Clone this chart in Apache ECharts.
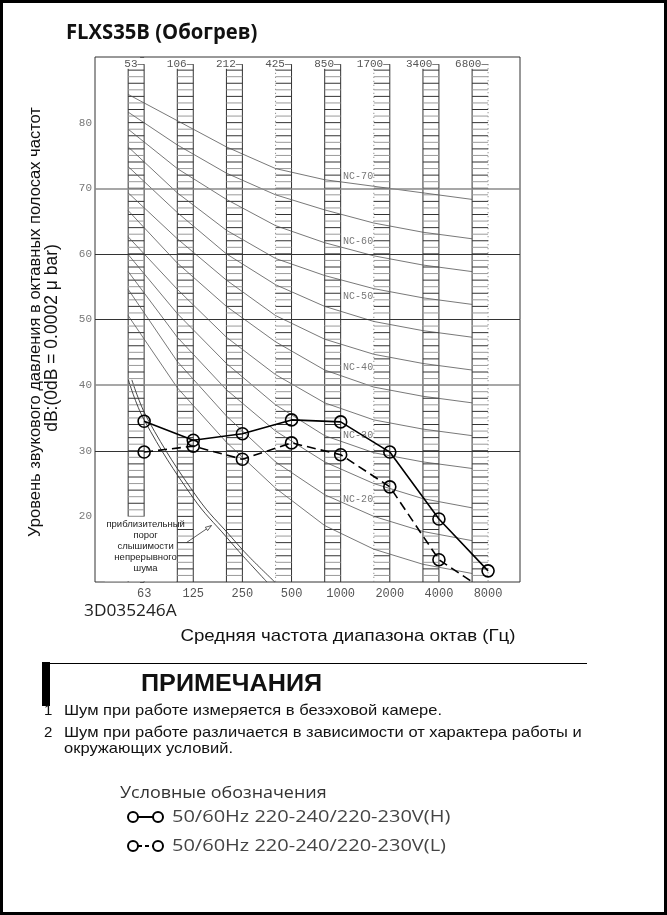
<!DOCTYPE html>
<html><head><meta charset="utf-8">
<script src="https://cdn.jsdelivr.net/npm/echarts@6/dist/echarts.min.js"></script>
<style>html,body{margin:0;padding:0;background:#fff}#c{width:667px;height:915px}</style>
</head><body><div id="c"></div><script>
// ---- data ----
const freqLabels = ['63','125','250','500','1000','2000','4000','8000'];
const bandLabels = ['53','106','212','425','850','1700','3400','6800'];
const yTickLabels = [20,30,40,50,60,70,80];
const gridLevels = [30,40,50,60,70];
const highValues = [34.5,31.6,32.6,34.7,34.4,29.8,19.6,11.7];
const lowValues  = [29.8,30.7,28.7,31.2,29.4,24.5,13.4,8.4];
// NC curves, values read at the lower edge of each band column
const nc70 = [84.3,80.3,76.3,73.0,71.3,70.3,69.3,68.3];
const nc65 = [81.6,76.6,72.3,69.0,66.7,64.7,63.3,62.3];
const nc60 = [79.0,73.0,68.3,64.3,61.7,59.7,58.3,57.3];
const nc55 = [76.3,69.3,63.6,59.3,56.7,54.7,53.3,52.3];
const nc50 = [73.3,66.3,60.0,55.3,52.0,49.7,48.3,47.3];
const nc45 = [69.3,62.3,56.0,50.6,47.0,44.7,43.3,42.3];
const nc40 = [66.6,58.6,52.0,46.6,42.3,39.7,38.3,37.3];
const nc35 = [62.6,54.6,47.3,41.6,37.3,34.7,33.3,32.3];
const nc30 = [59.9,50.9,43.3,37.0,32.3,29.7,28.3,27.3];
const nc25 = [57.3,47.3,39.3,33.0,28.3,25.0,22.7,21.3];
const nc20 = [54.6,43.6,35.3,28.3,23.3,20.0,17.7,16.3];
const nc15 = [50.6,39.6,31.3,24.3,18.6,15.0,12.7,11.3];
const ncCurves = [nc70,nc65,nc60,nc55,nc50,nc45,nc40,nc35,nc30,nc25,nc20,nc15];
const ncLabelNames  = ['NC-70','NC-60','NC-50','NC-40','NC-30','NC-20'];
const ncLabelLevels = [71.8,61.9,53.5,42.7,32.4,22.6];
// approximate threshold of hearing (two close lines), [band index, dB]
const thresholdA = [[-0.32,40.8],[0,34.7],[1,22.8],[1.68,16.8],[2.02,13.9],[2.5,10.0]];
const thresholdB = [[-0.25,40.8],[0.08,34.7],[1.09,22.8],[1.78,16.8],[2.13,13.9],[2.66,10.0]];
const thresholdText = ['приблизительный','порог','слышимости','непрерывного','шума'];
const legendNames = ['50/60Hz 220-240/220-230V(H)','50/60Hz 220-240/220-230V(L)'];

// ---- layout / style constants ----
const EDGE = 0.325;          // width of the hatched band column (in band units)
const X_MIN = -1, X_MAX = 7.65;
const dottedLeft = [3,5], dottedRight = [7];
const NC_LABEL_X = 4.05;
const MONO = "'Liberation Mono', monospace";
const SANS = "'Liberation Sans', Arial, sans-serif";
const OPEN = "'Open Sans', sans-serif";

const chart = echarts.init(document.getElementById('c'), null, {renderer:'canvas'});

const ladder = {
  type:'custom', silent:true, z:1,
  data: freqLabels.map((f,i)=>[i]),
  renderItem(params, api){
    const i = api.value(0);
    const xl = api.coord([i-EDGE, 50])[0], xr = api.coord([i, 50])[0];
    const yb = api.coord([0,10])[1];
    const ch = [];
    ch.push({type:'line', shape:{x1:xr,y1:api.coord([0,88.9])[1],x2:xr,y2:yb},
      style: dottedRight.includes(i) ? {stroke:'#777',lineWidth:1,lineDash:[1,3]} : {stroke:'#333',lineWidth:1}});
    ch.push({type:'line', shape:{x1:xl,y1:api.coord([0,88.2])[1],x2:xl,y2:yb},
      style: dottedLeft.includes(i) ? {stroke:'#777',lineWidth:1,lineDash:[1,3]} : {stroke:'#333',lineWidth:1}});
    for (let d=11; d<=88; d++){
      const y = api.coord([0,d])[1];
      ch.push({type:'line', shape:{x1:xl,y1:y,x2:xr,y2:y},
        style:{stroke: d%2 ? '#9a9a9a' : '#333', lineWidth:1}});
    }
    return {type:'group', children:ch};
  }
};

const gridSeries = {
  type:'line', data:[], silent:true, z:2,
  markLine:{ silent:true, symbol:'none', label:{show:false}, animation:false,
    data: gridLevels.map(v=>({yAxis:v, lineStyle:{color:(v===40||v===70)?'#8a8a8a':'#333', width:(v===40||v===70)?1.5:1, type:'solid'}}))}
};

const ncSeries = ncCurves.map(arr=>({
  type:'line', silent:true, z:3, symbol:'none',
  data: arr.map((v,i)=>[i-EDGE, v]),
  lineStyle:{color:'#555', width:0.8}
}));

const thrSeries = [thresholdA, thresholdB].map(arr=>({
  type:'line', silent:true, z:3, symbol:'none', smooth:0.4,
  data: arr, lineStyle:{color:'#333', width:0.9}
}));

const ncLabelSeries = {
  type:'scatter', silent:true, z:4, symbolSize:0,
  data: ncLabelNames.map((n,k)=>({value:[NC_LABEL_X, ncLabelLevels[k]], name:n})),
  label:{show:true, position:'right', distance:0, formatter:p=>p.name,
    fontFamily:MONO, fontSize:10, color:'#555'}
};

const dataSeries = [
  {name:legendNames[0], type:'line', z:6, data: highValues.map((v,i)=>[i,v]),
   symbol:'circle', symbolSize:12, itemStyle:{color:'rgba(0,0,0,0)', borderColor:'#000', borderWidth:1.6},
   lineStyle:{color:'#000', width:1.6}, clip:true},
  {name:legendNames[1], type:'line', z:6, data: lowValues.map((v,i)=>[i,v]),
   symbol:'circle', symbolSize:12, itemStyle:{color:'rgba(0,0,0,0)', borderColor:'#000', borderWidth:1.6},
   lineStyle:{color:'#000', width:1.6, type:[9,5]}, clip:true}
];

const texts = [];
function txt(x,y,text,font,fill,align,extra){
  texts.push(Object.assign({type:'text', z:20, x, y, style:{text, font, fill:fill||'#000', textAlign:align||'left', textVerticalAlign:'middle'}}, extra||{}));
}
// title
txt(66,33,'FLXS35B (Обогрев)',`bold 22px ${OPEN}`,'#111','left',{scaleX:0.92});
// y axis titles
txt(35,322,'Уровень звукового давления в октавных полосах частот',`16.5px ${SANS}`,'#111','center',{rotation:Math.PI/2});
txt(52,338,'dB:(0dB = 0.0002 μ bar)',`17.5px ${SANS}`,'#111','center',{rotation:Math.PI/2});
// footer of chart
txt(84,611,'3D035246A',`16px ${OPEN}`,'#222','left',{scaleX:1.08});
txt(348,636,'Средняя частота диапазона октав (Гц)',`17px ${SANS}`,'#111','center',{scaleX:1.1});
// notes
texts.push({type:'rect', z:20, shape:{x:42,y:662,width:8,height:44}, style:{fill:'#000'}});
texts.push({type:'line', z:20, shape:{x1:50,y1:663.5,x2:587,y2:663.5}, style:{stroke:'#000',lineWidth:1.2}});
txt(141,684,'ПРИМЕЧАНИЯ',`bold 24px ${SANS}`,'#111','left',{scaleX:1.05});
const NOTE_FONT = `15px ${SANS}`;
txt(44,711,'1',NOTE_FONT,'#111');
txt(64,711,'Шум при работе измеряется в безэховой камере.',NOTE_FONT,'#111','left',{scaleX:1.1});
txt(44,733,'2',NOTE_FONT,'#111');
txt(64,733,'Шум при работе различается в зависимости от характера работы и',NOTE_FONT,'#111','left',{scaleX:1.1});
txt(64,749,'окружающих условий.',NOTE_FONT,'#111','left',{scaleX:1.1});
// legend
txt(120,793,'Условные обозначения',`16px ${OPEN}`,'#333','left',{scaleX:1.12});
[817,846].forEach((y,k)=>{
  texts.push({type:'line', z:20, shape:{x1:138,y1:y,x2:153,y2:y}, style:{stroke:'#000',lineWidth:2, lineDash: k? [4,3]:null}});
  texts.push({type:'circle', z:20, shape:{cx:133,cy:y,r:5}, style:{stroke:'#000',lineWidth:2,fill:'#fff'}});
  texts.push({type:'circle', z:20, shape:{cx:158,cy:y,r:5}, style:{stroke:'#000',lineWidth:2,fill:'#fff'}});
  txt(172,y,legendNames[k],`16px ${OPEN}`,'#444','left',{scaleX:1.25});
});
// outer frame
texts.push({type:'rect', z:30, shape:{x:1.5,y:1.5,width:664,height:912}, style:{fill:null, stroke:'#000', lineWidth:3}});

chart.setOption({
  animation:false,
  backgroundColor:'#fff',
  grid:{left:95, top:57, width:425, height:525, show:true, borderColor:'#333', borderWidth:1, backgroundColor:'transparent'},
  xAxis:[
    {type:'value', min:X_MIN, max:X_MAX, interval:1, position:'bottom',
     axisLine:{show:false}, axisTick:{show:false}, splitLine:{show:false},
     axisLabel:{margin:6, fontFamily:MONO, fontSize:12, color:'#555', hideOverlap:false,
       formatter:v=> freqLabels[v] !== undefined ? freqLabels[v] : ''}},
    {type:'value', min:X_MIN, max:X_MAX, interval:1, position:'top',
     axisLine:{show:false}, axisTick:{show:false}, splitLine:{show:false},
     axisLabel:{inside:true, margin:2, fontFamily:MONO, fontSize:11, color:'#555', align:'right', hideOverlap:false,
       formatter:v=> bandLabels[v] !== undefined ? bandLabels[v]+'—' : ''}}
  ],
  yAxis:{type:'value', min:10, max:90, interval:10,
    axisLine:{show:false}, splitLine:{show:false},
    axisTick:{show:true, length:4, lineStyle:{color:'#555'}},
    axisLabel:{margin:3, fontFamily:MONO, fontSize:11, color:'#777',
      formatter:v=> yTickLabels.includes(v) ? String(v) : ''}},
  series:[ladder, gridSeries, ...ncSeries, ...thrSeries, ncLabelSeries, ...dataSeries],
  graphic: texts
});

// threshold annotation (white box, text, arrow) placed from data coordinates
(function(){
  const tl = chart.convertToPixel({xAxisIndex:0,yAxisIndex:0},[-0.8,20.0]);
  const br = chart.convertToPixel({xAxisIndex:0,yAxisIndex:0},[0.65,10.1]);
  const cx = chart.convertToPixel({xAxisIndex:0,yAxisIndex:0},[0.03,0])[0];
  const a0 = chart.convertToPixel({xAxisIndex:0,yAxisIndex:0},[0.86,16.0]);
  const a1 = chart.convertToPixel({xAxisIndex:0,yAxisIndex:0},[1.37,18.6]);
  const g = [];
  g.push({type:'rect', z:15, shape:{x:tl[0],y:tl[1],width:br[0]-tl[0],height:br[1]-tl[1]}, style:{fill:'#fff'}});
  thresholdText.forEach((t,k)=>{
    g.push({type:'text', z:16, x:cx, y:tl[1]+8+k*11, style:{text:t, font:`9.5px ${SANS}`, fill:'#222', textAlign:'center', textVerticalAlign:'middle'}});
  });
  g.push({type:'line', z:16, shape:{x1:a0[0],y1:a0[1],x2:a1[0],y2:a1[1]}, style:{stroke:'#333',lineWidth:0.8}});
  const ang = Math.atan2(a1[1]-a0[1], a1[0]-a0[0]);
  const L=6, W=2;
  const p1=[a1[0]-L*Math.cos(ang)+W*Math.sin(ang), a1[1]-L*Math.sin(ang)-W*Math.cos(ang)];
  const p2=[a1[0]-L*Math.cos(ang)-W*Math.sin(ang), a1[1]-L*Math.sin(ang)+W*Math.cos(ang)];
  g.push({type:'polygon', z:16, shape:{points:[a1,p1,p2]}, style:{fill:'#fff',stroke:'#333',lineWidth:0.8}});
  chart.setOption({graphic: texts.concat(g)});
})();
</script></body></html>
